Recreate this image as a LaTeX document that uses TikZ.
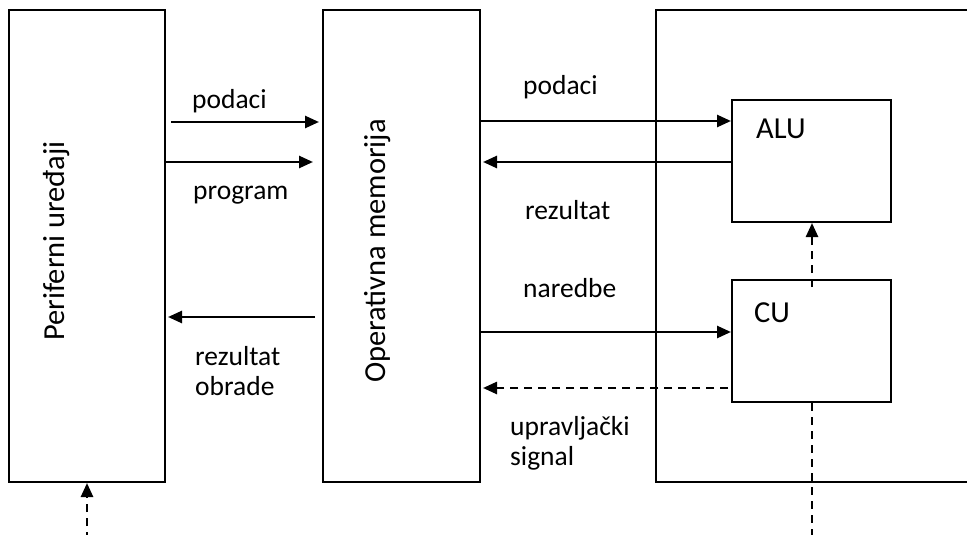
\documentclass[tikz,border=0pt]{standalone}
\usepackage{fontspec}
\setmainfont{Carlito}
\usetikzlibrary{arrows.meta}

\tikzset{
  blk/.style={draw, line width=2pt, inner sep=0pt},
  arr/.style={line width=2.5pt, -{Triangle[length=14pt,width=12pt]}},
  darr/.style={arr, dash pattern=on 8pt off 6pt},
  dline/.style={line width=2.5pt, dash pattern=on 8pt off 6pt},
  lbl/.style={font=\fontsize{27.5}{29.5}\selectfont, anchor=base west, inner sep=0pt, align=left},
  big/.style={font=\fontsize{30.5}{36}\selectfont, inner sep=0pt},
}

\begin{document}
\begin{tikzpicture}[x=1pt, y=-1pt]
  \useasboundingbox (0,0) rectangle (967,535);
  \clip (0,0) rectangle (967,535);

  % main blocks
  \node[blk, minimum width=156pt, minimum height=472pt] (per) at (87,246) {};
  \node[blk, minimum width=157pt, minimum height=472pt] (mem) at (401.5,246) {};
  \node[blk, minimum width=360pt, minimum height=472pt] (cpu) at (836,246) {};
  \node[blk, minimum width=159pt, minimum height=122pt] (alu) at (811.5,161) {};
  \node[blk, minimum width=159pt, minimum height=122pt] (cu)  at (811.5,341) {};

  % block titles
  \node[big, rotate=90, anchor=base] (tper) at (64,241) {Periferni uređaji};
  \node[big, rotate=90, anchor=base] (tmem) at (385,251) {Operativna memorija};
  \node[big, anchor=base west] (talu) at (756,138) {ALU};
  \node[big, anchor=base west] (tcu)  at (754,322) {CU};

  % peripherals <-> memory
  \draw[arr, shorten <=5pt, shorten >=3pt] (per.east |- 0,122) -- (mem.west |- 0,122);
  \draw[arr, shorten >=9pt] (per.east |- 0,162) -- (mem.west |- 0,162);
  \draw[arr, shorten <=7pt, shorten >=2pt] (mem.west |- 0,317) -- (per.east |- 0,317);

  % memory <-> processor
  \draw[arr] (mem.east |- 0,121) -- (alu.west |- 0,121);
  \draw[arr, shorten >=2pt] (alu.west |- 0,162) -- (mem.east |- 0,162);
  \draw[arr] (mem.east |- 0,332) -- (cu.west |- 0,332);
  \draw[darr, shorten <=3pt, shorten >=2pt] (cu.west |- 0,388) -- (mem.east |- 0,388);

  % control lines
  \coordinate (cuin) at (812,287);
  \draw[darr] (cuin) -- (alu.south -| cuin);
  \coordinate (cuout) at (812,540);
  \draw[dline] (cu.south -| cuout) -- (cuout);
  \coordinate (perin) at (87,540);
  \draw[darr] (perin) -- (per.south);

  % connector labels (two-line labels are placed by their last baseline)
  \node[lbl] (l1) at (192,109) {podaci};
  \node[lbl] (l2) at (193,199) {program};
  \node[lbl] (l3) at (195,395) {rezultat\\obrade};
  \node[lbl] (l4) at (523,95) {podaci};
  \node[lbl] (l5) at (525,219) {rezultat};
  \node[lbl] (l6) at (523,297) {naredbe};
  \node[lbl] (l7) at (510,465) {upravljački\\signal};
\end{tikzpicture}
\end{document}
